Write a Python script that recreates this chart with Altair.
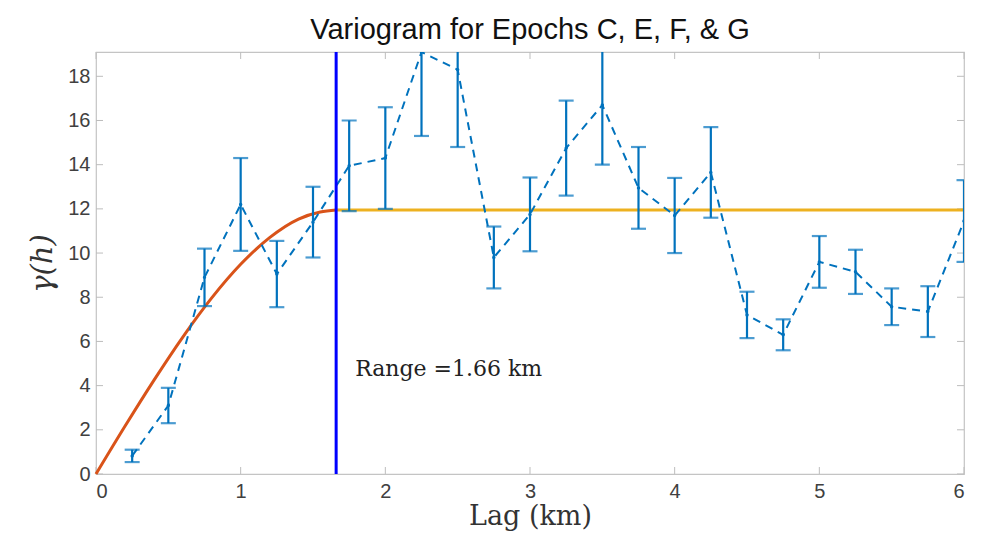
import altair as alt
import pandas as pd

# ---- data ----
lags = [0.25, 0.5, 0.75, 1.0, 1.25, 1.5, 1.75, 2.0, 2.25, 2.5, 2.75, 3.0,
        3.25, 3.5, 3.75, 4.0, 4.25, 4.5, 4.75, 5.0, 5.25, 5.5, 5.75, 6.0]
gamma = [0.82, 3.1, 8.9, 12.2, 9.05, 11.4, 13.95, 14.3, 19.1, 18.3, 9.8, 11.75,
         14.75, 16.7, 12.95, 11.7, 13.65, 7.2, 6.3, 9.6, 9.15, 7.57, 7.35, 11.45]
err = [0.28, 0.8, 1.3, 2.1, 1.5, 1.6, 2.05, 2.3, 3.8, 3.5, 1.4, 1.67,
       2.15, 2.7, 1.85, 1.7, 2.05, 1.05, 0.7, 1.17, 1.0, 0.83, 1.15, 1.85]

model_h = [0.0, 0.2, 0.4, 0.6, 0.8, 1.0, 1.2, 1.4, 1.55, 1.66]
model_g = [0.0, 2.16, 4.24, 6.2, 7.97, 9.49, 10.7, 11.54, 11.86, 11.95]
sill_h = [1.66, 6.0]
sill_g = [11.95, 11.95]
range_km = [1.66]
x_ticks = [0, 1, 2, 3, 4, 5, 6]
y_ticks = [0, 2, 4, 6, 8, 10, 12, 14, 16, 18]

W, H = 868, 422

pts = pd.DataFrame({"lag": lags, "g": gamma,
                    "lo": [g - e for g, e in zip(gamma, err)],
                    "hi": [g + e for g, e in zip(gamma, err)]})
model = pd.DataFrame({"h": model_h, "g": model_g})
sill = pd.DataFrame({"h": sill_h, "g": sill_g})
rng = pd.DataFrame({"r": range_km, "ty": [4.75],
                    "label": ["Range =" + str(range_km[0]) + " km"]})
xt = pd.DataFrame({"t": x_ticks})
yt = pd.DataFrame({"t": y_ticks})

xs = alt.Scale(domain=[0, 6], nice=False, zero=False)
ys = alt.Scale(domain=[0, 19.1], nice=False, zero=False)

xaxis = alt.Axis(values=x_ticks, title="Lag (km)", format="d", tickSize=0,
                 labelPadding=7, titlePadding=2, domain=False, grid=False)
yaxis = alt.Axis(values=y_ticks, title="γ(h)", format="d", tickSize=0,
                 labelPadding=6, titlePadding=10, domain=False, grid=False,
                 titleFontStyle="italic", titleFontSize=29)

BLUE = "#0072BD"

base_x = alt.X("lag:Q", scale=xs, axis=xaxis)

line = alt.Chart(pts).mark_line(color=BLUE, strokeWidth=2, strokeDash=[8, 6], clip=True).encode(
    x=base_x, y=alt.Y("g:Q", scale=ys, axis=yaxis))
dots = alt.Chart(pts).mark_point(color=BLUE, filled=True, size=12, opacity=1, clip=True).encode(
    x=base_x, y=alt.Y("g:Q", scale=ys, axis=yaxis))
bars = alt.Chart(pts).mark_rule(color=BLUE, strokeWidth=2.2, clip=True).encode(
    x=base_x, y=alt.Y("lo:Q", scale=ys, axis=yaxis), y2="hi:Q")
cap_hi = alt.Chart(pts).mark_tick(color=BLUE, orient="horizontal", size=15, thickness=2.2, clip=True).encode(
    x=base_x, y=alt.Y("hi:Q", scale=ys, axis=yaxis))
cap_lo = alt.Chart(pts).mark_tick(color=BLUE, orient="horizontal", size=15, thickness=2.2, clip=True).encode(
    x=base_x, y=alt.Y("lo:Q", scale=ys, axis=yaxis))

model_line = alt.Chart(model).mark_line(color="#D95319", strokeWidth=3, interpolate="monotone").encode(
    x=alt.X("h:Q", scale=xs, axis=xaxis), y=alt.Y("g:Q", scale=ys, axis=yaxis))
sill_line = alt.Chart(sill).mark_line(color="#EDB120", strokeWidth=3).encode(
    x=alt.X("h:Q", scale=xs, axis=xaxis), y=alt.Y("g:Q", scale=ys, axis=yaxis))
range_line = alt.Chart(rng).mark_rule(color="#0000FF", strokeWidth=3).encode(
    x=alt.X("r:Q", scale=xs, axis=xaxis), y=alt.value(0), y2=alt.value(H))
range_text = alt.Chart(rng).mark_text(align="left", baseline="middle", dx=19, font="DejaVu Serif",
                                      fontSize=22, color="#222").encode(
    x=alt.X("r:Q", scale=xs, axis=xaxis), y=alt.Y("ty:Q", scale=ys, axis=yaxis), text="label:N")

TC = "#bdbdbd"
xt_bot = alt.Chart(xt).mark_rule(color=TC, strokeWidth=1).encode(
    x=alt.X("t:Q", scale=xs, axis=xaxis), y=alt.value(H - 7), y2=alt.value(H))
xt_top = alt.Chart(xt).mark_rule(color=TC, strokeWidth=1).encode(
    x=alt.X("t:Q", scale=xs, axis=xaxis), y=alt.value(0), y2=alt.value(7))
yt_left = alt.Chart(yt).mark_rule(color=TC, strokeWidth=1).encode(
    y=alt.Y("t:Q", scale=ys, axis=yaxis), x=alt.value(0), x2=alt.value(7))
yt_right = alt.Chart(yt).mark_rule(color=TC, strokeWidth=1).encode(
    y=alt.Y("t:Q", scale=ys, axis=yaxis), x=alt.value(W - 7), x2=alt.value(W))

chart = alt.layer(
    xt_bot, xt_top, yt_left, yt_right,
    sill_line, model_line, bars, cap_hi, cap_lo, line, dots, range_line, range_text
).properties(
    width=W, height=H,
    title=alt.Title("Variogram for Epochs C, E, F, & G", font="Liberation Sans", fontSize=29,
                    fontWeight="normal", color="#111", offset=6, anchor="middle"),
    autosize=alt.AutoSizeParams(type="none"),
    padding={"left": 88, "top": 44, "right": 12, "bottom": 64},
).configure_view(
    stroke="#c4c4c4", strokeWidth=1.2
).configure_axis(
    labelFont="Liberation Sans", labelFontSize=20, labelColor="#404040",
    titleFont="DejaVu Serif", titleFontSize=27, titleFontWeight="normal", titleColor="#333"
)

chart.save("out.html", embed_options={"renderer": "svg", "actions": False})
